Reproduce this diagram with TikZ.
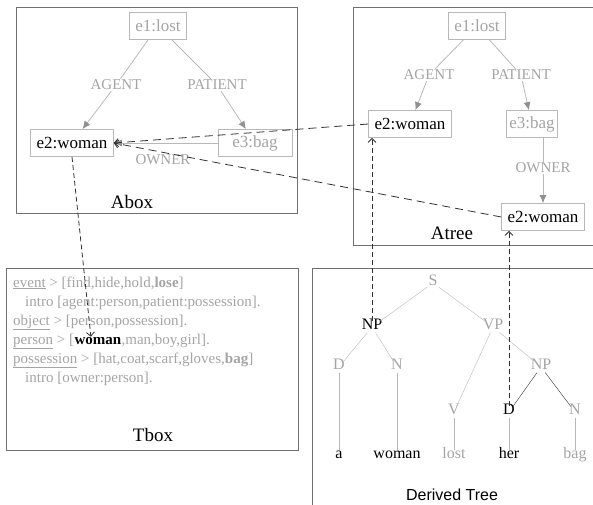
\documentclass[tikz,border=0pt]{standalone}
\usepackage{fontspec}
\setmainfont{Liberation Serif}
\setsansfont{Liberation Sans}
\usetikzlibrary{arrows.meta,positioning}
\definecolor{lightgrey}{HTML}{A4A4A4}
\definecolor{boxgrey}{HTML}{B8B8B8}
\definecolor{tipgrey}{HTML}{909090}
\definecolor{framegrey}{HTML}{707070}
\definecolor{dashgrey}{HTML}{303030}
\tikzset{
    %Define style for entity boxes
    entnode/.style={
             rectangle,
             draw=boxgrey, thick,
             inner xsep=6pt, minimum height=27pt,
             text=lightgrey,
             font=\fontsize{17}{20}\selectfont},
    keynode/.style={
             entnode,
             text=black},
    rolenode/.style={
             text=lightgrey, inner sep=1pt,
             font=\fontsize{15}{18}\selectfont},
    boxlabel/.style={
             font=\fontsize{19}{22}\selectfont},
    treenode/.style={
             text=lightgrey, inner sep=1pt,
             text height=1.6ex, text depth=.3ex,
             font=\fontsize{16}{19}\selectfont},
    treekey/.style={
             treenode,
             text=black},
    linetext/.style={
             anchor=base west, inner sep=0pt,
             text=lightgrey,
             font=\fontsize{15}{19}\selectfont},
    frame/.style={
             draw=framegrey, thick},
    % Define arrow style
    roleline/.style={
            draw=boxgrey, thick},
    rolearrow/.style={
            roleline,
            -{Latex[length=8pt,width=7pt,color=tipgrey]}},
    treeline/.style={
            draw=boxgrey},
    linkarrow/.style={
            dashgrey, thick,
            dash pattern=on 8pt off 5pt,
            -{Straight Barb[length=4pt,width=8pt]}},
    maparrow/.style={
            dashgrey, thick,
            dash pattern=on 5pt off 3pt,
            -{Straight Barb[length=4pt,width=8pt]}}
}

\begin{document}
\begin{tikzpicture}[x=1pt, y=1pt, on grid]
 \useasboundingbox (0,0) rectangle (593,504);
 % frames
 \draw[frame] (16,291) rectangle (297,497);
 \draw[frame] (353,259) rectangle (600,497);
 \draw[frame] (6,54) rectangle (298,236);
 \draw[frame] (312,-20) rectangle (600,236);
 \node[boxlabel] (abox) at (132,302) {Abox};
 \node[boxlabel] (atree) at (452,271) {Atree};
 \node[boxlabel] (tbox) at (153,69) {Tbox};
 \node[font=\sffamily\fontsize{16}{19}\selectfont] (dtree) at (452,9) {Derived Tree};

 % Abox
 \node[entnode] (alost) at (158,478) {e1:lost};
 \node[rolenode, below left=59pt and 42pt of alost] (aagent) {AGENT};
 \node[rolenode, below right=59pt and 59pt of alost] (apatient) {PATIENT};
 \node[keynode, below left=58pt and 44pt of aagent] (awoman) {e2:woman};
 \node[entnode, minimum width=74pt, below right=58pt and 38pt of apatient] (abag) {e3:bag};
 \node[rolenode, below left=17pt and 92pt of abag] (aowner) {OWNER};
 \draw[roleline] (alost) -- (aagent);
 \draw[rolearrow] (aagent) -- (awoman);
 \draw[roleline] (alost) -- (apatient);
 \draw[rolearrow] (apatient) -- (abag);
 \draw[rolearrow] (abag) -- (awoman);

 % Atree
 \node[entnode] (tlost) at (477,478) {e1:lost};
 \node[rolenode, below left=49pt and 48pt of tlost] (tagent) {AGENT};
 \node[rolenode, below right=49pt and 44pt of tlost] (tpatient) {PATIENT};
 \node[keynode, below left=49pt and 19pt of tagent] (twoman) {e2:woman};
 \node[entnode, inner xsep=3pt, below right=49pt and 11pt of tpatient] (tbag) {e3:bag};
 \node[rolenode, below right=44pt and 11pt of tbag] (towner) {OWNER};
 \node[keynode, below=49pt of towner] (twoman2) {e2:woman};
 \draw[roleline] (tlost) -- (tagent);
 \draw[rolearrow] (tagent) -- (twoman);
 \draw[roleline] (tlost) -- (tpatient);
 \draw[rolearrow] (tpatient) -- (tbag);
 \draw[roleline] (towner.north |- tbag.south) -- (towner);
 \draw[rolearrow] (towner) -- (twoman2);

 % Tbox
 \node[linetext] (tevent) at (13,217) {\underline{event} > [find,hide,hold,\textbf{lose}]};
 \node[linetext] (teventintro) at (25,198) {intro [agent:person,patient:possession].};
 \node[linetext] (tobject) at (13,179) {\underline{object} > [person,possession].};
 \node[linetext] (tperson) at (13,160) {\underline{person} > [};
 \node[linetext, text=black] (xwoman) at (tperson.base east) {\textbf{woman}};
 \node[linetext] (tpersonrest) at (xwoman.base east) {,man,boy,girl].};
 \node[linetext] (tposs) at (13,141) {\underline{possession} > [hat,coat,scarf,gloves,\textbf{bag}]};
 \node[linetext] (tpossintro) at (25,122) {intro [owner:person].};

 % Derived tree
 \node[treenode] (s) at (433,221) {S};
 \node[treekey, below left=44pt and 61pt of s] (np) {NP};
 \node[treenode, below right=44pt and 60pt of s] (vp) {VP};
 \node[treenode, below left=40pt and 33pt of np] (d) {D};
 \node[treenode, below right=40pt and 25pt of np] (n) {N};
 \node[treenode, below right=40pt and 48pt of vp] (np2) {NP};
 \node[treenode, below left=85pt and 39pt of vp] (v) {V};
 \node[treekey, below left=45pt and 32pt of np2] (d2) {D};
 \node[treenode, below right=45pt and 34pt of np2] (n2) {N};
 \node[treekey, below=89pt of d] (wa) {a};
 \node[treekey, below=89pt of n] (wwoman) {woman};
 \node[treenode, below=44pt of v] (wlost) {lost};
 \node[treekey, below=44pt of d2] (wher) {her};
 \node[treenode, below=44pt of n2] (wbag) {bag};
 \draw[treeline] (s) -- (np);
 \draw[treeline] (s) -- (vp);
 \draw[treeline] (np) -- (d);
 \draw[treeline] (np) -- (n);
 \draw[treeline] (vp) -- (v);
 \draw[treeline] (vp) -- (np2);
 \draw[dashgrey] (np2) -- (d2);
 \draw[dashgrey] (np2) -- (n2);
 \draw[treeline] (d) -- (wa);
 \draw[treeline] (n) -- (wwoman);
 \draw[treeline] (v) -- (wlost);
 \draw[treeline] (d2) -- (wher);
 \draw[treeline] (n2) -- (wbag);

 % links between the boxes
 \draw[linkarrow] (twoman.west) -- (awoman.east);
 \draw[linkarrow] (twoman2.west) -- (awoman.east);
 \draw[maparrow] (awoman.south) -- ([xshift=-7pt]xwoman.north);
 \draw[maparrow] (np.north) -- (np.north |- twoman.south);
 \draw[maparrow] (d2.north) -- (d2.north |- twoman2.south);
\end{tikzpicture}
\end{document}
